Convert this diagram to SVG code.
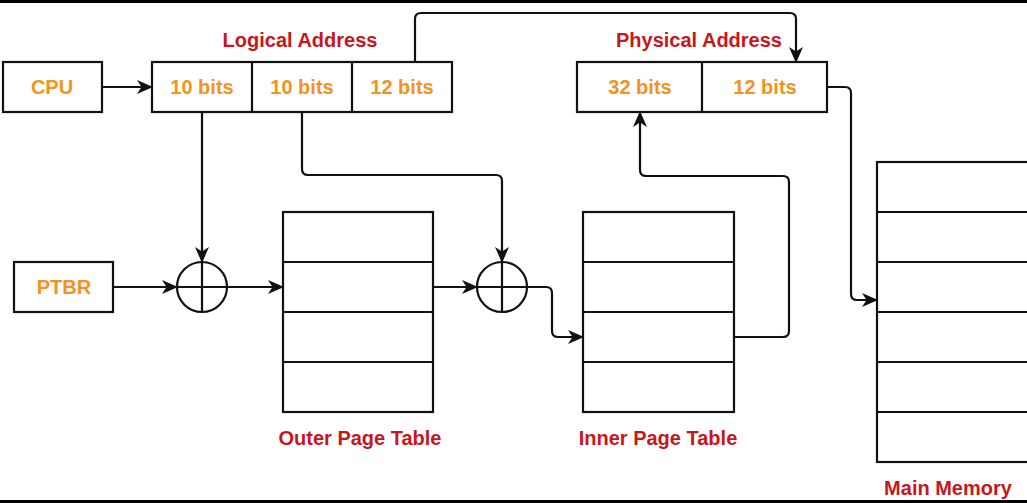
<svg xmlns="http://www.w3.org/2000/svg" width="1027" height="503" viewBox="0 0 1027 503">
<defs>
<style>
.box{fill:#fff;stroke:#111;stroke-width:2.2}
.ln{fill:none;stroke:#111;stroke-width:2.2}
.c{fill:none;stroke:#111;stroke-width:2.2}
.or{font-family:"Liberation Sans",Arial,sans-serif;font-weight:bold;font-size:20px;fill:#F39320;text-anchor:middle}
.rd{font-family:"Liberation Sans",Arial,sans-serif;font-weight:bold;font-size:20px;fill:#C8161D;text-anchor:middle}
</style>
<marker id="ar" viewBox="0 0 16 16" refX="15" refY="8" markerWidth="16" markerHeight="16" markerUnits="userSpaceOnUse" orient="auto">
<path d="M0,1 L16,8 L0,15 L4.5,8 z" fill="#111"/>
</marker>
</defs>
<rect x="0" y="0" width="1027" height="503" fill="#fff"/>
<rect x="0" y="0" width="1027" height="3" fill="#000"/>
<rect x="0" y="500" width="1027" height="3" fill="#000"/>

<g id="connectors">
<path class="ln" d="M102,87 H152" marker-end="url(#ar)"/>
<path class="ln" d="M202,112 V262" marker-end="url(#ar)"/>
<path class="ln" d="M302,112 V169 Q302,175 308,175 H496 Q502,175 502,181 V262" marker-end="url(#ar)"/>
<path class="ln" d="M415,62 V19 Q415,13 421,13 H790 Q796,13 796,19 V62" marker-end="url(#ar)"/>
<path class="ln" d="M113,287 H177" marker-end="url(#ar)"/>
<path class="ln" d="M227,287 H283" marker-end="url(#ar)"/>
<path class="ln" d="M433,287 H477" marker-end="url(#ar)"/>
<path class="ln" d="M527,287 H546 Q552,287 552,293 V331 Q552,337 558,337 H583" marker-end="url(#ar)"/>
<path class="ln" d="M734,337 H783 Q789,337 789,331 V182 Q789,176 783,176 H646 Q640,176 640,170 V112" marker-end="url(#ar)"/>
<path class="ln" d="M827,87 H845 Q851,87 851,93 V294 Q851,300 857,300 H877" marker-end="url(#ar)"/>
</g>

<g id="cpu">
<rect class="box" x="3" y="62" width="99" height="50"/>
<text class="or" x="52" y="94">CPU</text>
</g>

<g id="ptbr">
<rect class="box" x="14" y="262" width="99" height="50"/>
<text class="or" x="64" y="294">PTBR</text>
</g>

<g id="logical-address">
<text class="rd" x="300" y="47">Logical Address</text>
<rect class="box" x="152" y="62" width="300" height="50"/>
<path class="ln" d="M252,62 V112 M352,62 V112"/>
<text class="or" x="202" y="94">10 bits</text>
<text class="or" x="302" y="94">10 bits</text>
<text class="or" x="402" y="94">12 bits</text>
</g>

<g id="physical-address">
<text class="rd" x="699" y="47">Physical Address</text>
<rect class="box" x="577" y="62" width="250" height="50"/>
<path class="ln" d="M702,62 V112"/>
<text class="or" x="640" y="94">32 bits</text>
<text class="or" x="765" y="94">12 bits</text>
</g>

<g id="adder1">
<circle class="c" cx="202" cy="287" r="25"/>
<path class="ln" d="M177,287 H227 M202,262 V312"/>
</g>

<g id="adder2">
<circle class="c" cx="502" cy="287" r="25"/>
<path class="ln" d="M477,287 H527 M502,262 V312"/>
</g>

<g id="outer-page-table">
<rect class="box" x="283" y="212" width="150" height="200"/>
<path class="ln" d="M283,262 H433 M283,312 H433 M283,362 H433"/>
<text class="rd" x="360" y="445">Outer Page Table</text>
</g>

<g id="inner-page-table">
<rect class="box" x="583" y="212" width="151" height="200"/>
<path class="ln" d="M583,262 H734 M583,312 H734 M583,362 H734"/>
<text class="rd" x="658" y="445">Inner Page Table</text>
</g>

<g id="main-memory">
<rect class="box" x="877" y="162" width="160" height="300"/>
<path class="ln" d="M877,212 H1027 M877,262 H1027 M877,312 H1027 M877,362 H1027 M877,412 H1027"/>
<text class="rd" x="948" y="495">Main Memory</text>
</g>
</svg>
